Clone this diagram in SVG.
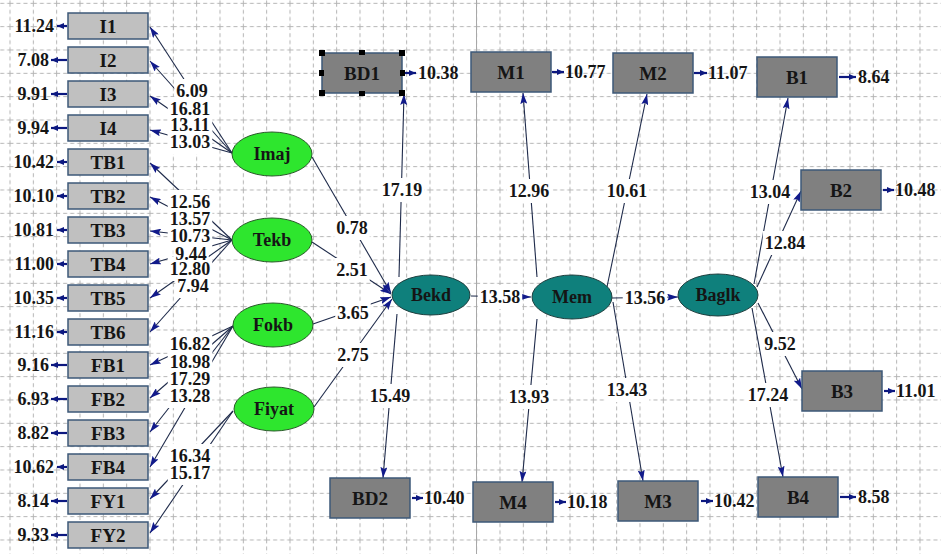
<svg xmlns="http://www.w3.org/2000/svg" width="941" height="554" viewBox="0 0 941 554">
<defs>
<style>
text{font-family:"Liberation Serif","Times New Roman",serif;font-weight:bold;font-size:18px;fill:#151515}
.c{text-anchor:middle}
.e{text-anchor:end}
.n{font-size:19px}
.b1{fill:#c0c0c0;stroke:#3d5878;stroke-width:1.5}
.b2{fill:#808080;stroke:#3d5878;stroke-width:1.5}
.g{fill:#2ee62e;stroke:#2a5a2a;stroke-width:1}
.t{fill:#0f807c;stroke:#1f3f3f;stroke-width:1}
.p{stroke:#1e2a4a;stroke-width:1.1;fill:none;marker-end:url(#ah)}
.er{stroke:#0c1880;stroke-width:2.2;fill:none;marker-end:url(#ahs)}
.bg{fill:#fff}
.h{fill:#000}
</style>
<marker id="ah" markerWidth="11" markerHeight="7" refX="11" refY="3.5" orient="auto" markerUnits="userSpaceOnUse"><path d="M0,0 L11,3.5 L0,7 L2,3.5 Z" fill="#111a8a"/></marker>
<marker id="ahs" markerWidth="7" markerHeight="6" refX="7" refY="3" orient="auto" markerUnits="userSpaceOnUse"><path d="M0,0 L7,3 L0,6 Z" fill="#0c1880"/></marker>
<pattern id="grid" x="9.5" y="2.83" width="23.333" height="23.333" patternUnits="userSpaceOnUse"><path d="M0,0.5 H23.333 M0.5,0 V23.333" stroke="#b4b4b4" stroke-width="1" stroke-dasharray="4 3" fill="none"/></pattern>
</defs>
<rect width="941" height="554" fill="#fff"/>
<rect width="941" height="554" fill="url(#grid)"/>
<line x1="476.5" y1="0" x2="476.5" y2="554" stroke="#a8a8a8" stroke-width="1"/>

<g id="connectors">
<line class="p" x1="232" y1="153" x2="150" y2="27"/>
<line class="p" x1="232" y1="153" x2="150" y2="61"/>
<line class="p" x1="232" y1="153" x2="150" y2="96"/>
<line class="p" x1="232" y1="153" x2="150" y2="130"/>
<line class="p" x1="232" y1="240" x2="150" y2="163"/>
<line class="p" x1="232" y1="240" x2="150" y2="197"/>
<line class="p" x1="232" y1="240" x2="150" y2="231"/>
<line class="p" x1="232" y1="240" x2="150" y2="264"/>
<line class="p" x1="232" y1="240" x2="150" y2="298"/>
<line class="p" x1="232" y1="240" x2="150" y2="332"/>
<line class="p" x1="233" y1="326" x2="150" y2="365"/>
<line class="p" x1="233" y1="326" x2="150" y2="398"/>
<line class="p" x1="233" y1="326" x2="150" y2="432"/>
<line class="p" x1="233" y1="326" x2="150" y2="467"/>
<line class="p" x1="233" y1="411" x2="150" y2="499"/>
<line class="p" x1="233" y1="411" x2="150" y2="533"/>
<line class="p" x1="312" y1="157" x2="391" y2="293"/>
<line class="p" x1="312" y1="242" x2="391" y2="294"/>
<line class="p" x1="313" y1="324" x2="391" y2="297"/>
<line class="p" x1="314" y1="407" x2="392" y2="299"/>
<line class="p" x1="399" y1="277" x2="404" y2="94"/>
<line class="p" x1="397" y1="314" x2="383" y2="478"/>
<line class="p" x1="471" y1="296" x2="531" y2="297"/>
<line class="p" x1="537" y1="277" x2="523" y2="93"/>
<line class="p" x1="607" y1="287" x2="647" y2="94"/>
<line class="p" x1="537" y1="319" x2="522" y2="482"/>
<line class="p" x1="613" y1="302" x2="643" y2="481"/>
<line class="p" x1="612" y1="298" x2="678" y2="297"/>
<line class="p" x1="754" y1="284" x2="788" y2="98"/>
<line class="p" x1="757" y1="287" x2="801" y2="191"/>
<line class="p" x1="758" y1="303" x2="802" y2="389"/>
<line class="p" x1="752" y1="308" x2="783" y2="477"/>
<line class="er" x1="67" y1="26" x2="57" y2="26"/>
<line class="er" x1="67" y1="60" x2="51" y2="60"/>
<line class="er" x1="67" y1="94" x2="51" y2="94"/>
<line class="er" x1="67" y1="128" x2="51" y2="128"/>
<line class="er" x1="67" y1="162" x2="57" y2="162"/>
<line class="er" x1="67" y1="196" x2="57" y2="196"/>
<line class="er" x1="67" y1="230" x2="57" y2="230"/>
<line class="er" x1="67" y1="264" x2="57" y2="264"/>
<line class="er" x1="67" y1="298" x2="57" y2="298"/>
<line class="er" x1="67" y1="332" x2="57" y2="332"/>
<line class="er" x1="67" y1="365" x2="51" y2="365"/>
<line class="er" x1="67" y1="399" x2="51" y2="399"/>
<line class="er" x1="67" y1="433" x2="51" y2="433"/>
<line class="er" x1="67" y1="467" x2="57" y2="467"/>
<line class="er" x1="67" y1="501" x2="51" y2="501"/>
<line class="er" x1="67" y1="535" x2="51" y2="535"/>
<line class="er" x1="404" y1="73" x2="416" y2="73"/>
<line class="er" x1="552" y1="72" x2="564" y2="72"/>
<line class="er" x1="694" y1="73" x2="707" y2="73"/>
<line class="er" x1="839" y1="77" x2="856" y2="77"/>
<line class="er" x1="883" y1="190" x2="894" y2="190"/>
<line class="er" x1="884" y1="391" x2="895" y2="391"/>
<line class="er" x1="701" y1="501" x2="713" y2="501"/>
<line class="er" x1="840" y1="497" x2="856" y2="497"/>
<line class="er" x1="412" y1="498" x2="423" y2="498"/>
<line class="er" x1="555" y1="502" x2="566" y2="502"/>
</g>

<g id="label-backgrounds">
<rect class="bg" x="174.25" y="79" width="35.5" height="24"/>
<rect class="bg" x="167.75" y="97" width="44.5" height="24"/>
<rect class="bg" x="167.75" y="113" width="44.5" height="24"/>
<rect class="bg" x="167.75" y="130" width="44.5" height="24"/>
<rect class="bg" x="167.75" y="190" width="44.5" height="24"/>
<rect class="bg" x="167.75" y="207" width="44.5" height="24"/>
<rect class="bg" x="167.75" y="224" width="44.5" height="24"/>
<rect class="bg" x="173.25" y="242" width="35.5" height="24"/>
<rect class="bg" x="167.75" y="257" width="44.5" height="24"/>
<rect class="bg" x="175.25" y="274" width="35.5" height="24"/>
<rect class="bg" x="167.75" y="332" width="44.5" height="24"/>
<rect class="bg" x="167.75" y="350" width="44.5" height="24"/>
<rect class="bg" x="167.75" y="367" width="44.5" height="24"/>
<rect class="bg" x="167.75" y="384" width="44.5" height="24"/>
<rect class="bg" x="167.75" y="444" width="44.5" height="24"/>
<rect class="bg" x="167.75" y="461" width="44.5" height="24"/>
<rect class="bg" x="334.25" y="216" width="35.5" height="24"/>
<rect class="bg" x="334.25" y="258" width="35.5" height="24"/>
<rect class="bg" x="335.25" y="301" width="35.5" height="24"/>
<rect class="bg" x="335.25" y="343" width="35.5" height="24"/>
<rect class="bg" x="379.75" y="178" width="44.5" height="24"/>
<rect class="bg" x="367.75" y="384" width="44.5" height="24"/>
<rect class="bg" x="506.75" y="179" width="44.5" height="24"/>
<rect class="bg" x="604.75" y="179" width="44.5" height="24"/>
<rect class="bg" x="506.75" y="385" width="44.5" height="24"/>
<rect class="bg" x="604.75" y="378" width="44.5" height="24"/>
<rect class="bg" x="477.75" y="285" width="44.5" height="24"/>
<rect class="bg" x="622.75" y="286" width="44.5" height="24"/>
<rect class="bg" x="747.75" y="180" width="44.5" height="24"/>
<rect class="bg" x="762.75" y="231" width="44.5" height="24"/>
<rect class="bg" x="762.25" y="332" width="35.5" height="24"/>
<rect class="bg" x="745.75" y="383" width="44.5" height="24"/>
</g>

<g id="path-labels">
<text class="c" x="192" y="97">6.09</text>
<text class="c" x="190" y="115">16.81</text>
<text class="c" x="190" y="131">13.11</text>
<text class="c" x="190" y="148">13.03</text>
<text class="c" x="190" y="208">12.56</text>
<text class="c" x="190" y="225">13.57</text>
<text class="c" x="190" y="242">10.73</text>
<text class="c" x="191" y="260">9.44</text>
<text class="c" x="190" y="275">12.80</text>
<text class="c" x="193" y="292">7.94</text>
<text class="c" x="190" y="350">16.82</text>
<text class="c" x="190" y="368">18.98</text>
<text class="c" x="190" y="385">17.29</text>
<text class="c" x="190" y="402">13.28</text>
<text class="c" x="190" y="462">16.34</text>
<text class="c" x="190" y="479">15.17</text>
<text class="c" x="352" y="234">0.78</text>
<text class="c" x="352" y="276">2.51</text>
<text class="c" x="353" y="319">3.65</text>
<text class="c" x="353" y="361">2.75</text>
<text class="c" x="402" y="196">17.19</text>
<text class="c" x="390" y="402">15.49</text>
<text class="c" x="529" y="197">12.96</text>
<text class="c" x="627" y="197">10.61</text>
<text class="c" x="529" y="403">13.93</text>
<text class="c" x="627" y="396">13.43</text>
<text class="c" x="500" y="303">13.58</text>
<text class="c" x="645" y="304">13.56</text>
<text class="c" x="770" y="198">13.04</text>
<text class="c" x="785" y="249">12.84</text>
<text class="c" x="780" y="350">9.52</text>
<text class="c" x="768" y="401">17.24</text>
</g>

<g id="error-values">
<text class="e" x="54" y="32">11.24</text>
<text class="e" x="49" y="66">7.08</text>
<text class="e" x="49" y="100">9.91</text>
<text class="e" x="49" y="134">9.94</text>
<text class="e" x="54" y="168">10.42</text>
<text class="e" x="54" y="202">10.10</text>
<text class="e" x="54" y="236">10.81</text>
<text class="e" x="54" y="270">11.00</text>
<text class="e" x="54" y="304">10.35</text>
<text class="e" x="54" y="338">11.16</text>
<text class="e" x="49" y="371">9.16</text>
<text class="e" x="49" y="405">6.93</text>
<text class="e" x="49" y="439">8.82</text>
<text class="e" x="54" y="473">10.62</text>
<text class="e" x="49" y="507">8.14</text>
<text class="e" x="49" y="541">9.33</text>
<text x="418" y="79">10.38</text>
<text x="565" y="78">10.77</text>
<text x="708" y="79">11.07</text>
<text x="858" y="83">8.64</text>
<text x="895" y="196">10.48</text>
<text x="896" y="397">11.01</text>
<text x="714" y="507">10.42</text>
<text x="858" y="503">8.58</text>
<text x="424" y="504">10.40</text>
<text x="567" y="508">10.18</text>
</g>

<g id="I1"><rect class="b1" x="68" y="13" width="80" height="26"/><text class="c n" x="108" y="33">I1</text></g>
<g id="I2"><rect class="b1" x="68" y="47" width="80" height="26"/><text class="c n" x="108" y="67">I2</text></g>
<g id="I3"><rect class="b1" x="68" y="81" width="80" height="26"/><text class="c n" x="108" y="101">I3</text></g>
<g id="I4"><rect class="b1" x="68" y="115" width="80" height="26"/><text class="c n" x="108" y="135">I4</text></g>
<g id="TB1"><rect class="b1" x="68" y="149" width="80" height="26"/><text class="c n" x="108" y="169">TB1</text></g>
<g id="TB2"><rect class="b1" x="68" y="183" width="80" height="26"/><text class="c n" x="108" y="203">TB2</text></g>
<g id="TB3"><rect class="b1" x="68" y="217" width="80" height="26"/><text class="c n" x="108" y="237">TB3</text></g>
<g id="TB4"><rect class="b1" x="68" y="251" width="80" height="26"/><text class="c n" x="108" y="271">TB4</text></g>
<g id="TB5"><rect class="b1" x="68" y="285" width="80" height="26"/><text class="c n" x="108" y="305">TB5</text></g>
<g id="TB6"><rect class="b1" x="68" y="319" width="80" height="26"/><text class="c n" x="108" y="339">TB6</text></g>
<g id="FB1"><rect class="b1" x="68" y="352" width="80" height="26"/><text class="c n" x="108" y="372">FB1</text></g>
<g id="FB2"><rect class="b1" x="68" y="386" width="80" height="26"/><text class="c n" x="108" y="406">FB2</text></g>
<g id="FB3"><rect class="b1" x="68" y="420" width="80" height="26"/><text class="c n" x="108" y="440">FB3</text></g>
<g id="FB4"><rect class="b1" x="68" y="454" width="80" height="26"/><text class="c n" x="108" y="474">FB4</text></g>
<g id="FY1"><rect class="b1" x="68" y="488" width="80" height="26"/><text class="c n" x="108" y="508">FY1</text></g>
<g id="FY2"><rect class="b1" x="68" y="522" width="80" height="26"/><text class="c n" x="108" y="542">FY2</text></g>

<g id="Imaj"><ellipse class="g" cx="272" cy="154" rx="40" ry="22"/><text class="c" x="272" y="160">Imaj</text></g>
<g id="Tekb"><ellipse class="g" cx="272" cy="240" rx="40" ry="22"/><text class="c" x="272" y="246">Tekb</text></g>
<g id="Fokb"><ellipse class="g" cx="273" cy="325" rx="40" ry="22"/><text class="c" x="273" y="331">Fokb</text></g>
<g id="Fiyat"><ellipse class="g" cx="274" cy="409" rx="40" ry="22"/><text class="c" x="274" y="415">Fiyat</text></g>
<g id="Bekd"><ellipse class="t" cx="431" cy="295" rx="39" ry="20"/><text class="c" x="431" y="301">Bekd</text></g>
<g id="Mem"><ellipse class="t" cx="572" cy="297" rx="40" ry="22"/><text class="c" x="572" y="303">Mem</text></g>
<g id="Baglk"><ellipse class="t" cx="718" cy="295" rx="40" ry="21"/><text class="c" x="718" y="301">Baglk</text></g>

<g id="BD1"><rect class="b2" x="322" y="53" width="80" height="40"/><text class="c n" x="362" y="80">BD1</text>
<rect class="h" x="319" y="50" width="6" height="6"/><rect class="h" x="399" y="50" width="6" height="6"/><rect class="h" x="319" y="90" width="6" height="6"/><rect class="h" x="399" y="90" width="6" height="6"/><rect class="h" x="359" y="50" width="6" height="5"/><rect class="h" x="359" y="91" width="6" height="5"/><rect class="h" x="319" y="70" width="5" height="6"/><rect class="h" x="400" y="70" width="5" height="6"/></g>
<g id="M1"><rect class="b2" x="471" y="52" width="80" height="40"/><text class="c n" x="511" y="79">M1</text></g>
<g id="M2"><rect class="b2" x="613" y="53" width="80" height="40"/><text class="c n" x="653" y="80">M2</text></g>
<g id="B1"><rect class="b2" x="757" y="57" width="80" height="40"/><text class="c n" x="797" y="84">B1</text></g>
<g id="B2"><rect class="b2" x="801" y="170" width="80" height="40"/><text class="c n" x="841" y="197">B2</text></g>
<g id="B3"><rect class="b2" x="802" y="371" width="80" height="40"/><text class="c n" x="842" y="398">B3</text></g>
<g id="BD2"><rect class="b2" x="330" y="478" width="80" height="40"/><text class="c n" x="370" y="505">BD2</text></g>
<g id="M4"><rect class="b2" x="473" y="482" width="80" height="40"/><text class="c n" x="513" y="509">M4</text></g>
<g id="M3"><rect class="b2" x="618" y="481" width="80" height="40"/><text class="c n" x="658" y="508">M3</text></g>
<g id="B4"><rect class="b2" x="758" y="477" width="80" height="40"/><text class="c n" x="798" y="504">B4</text></g>
</svg>
